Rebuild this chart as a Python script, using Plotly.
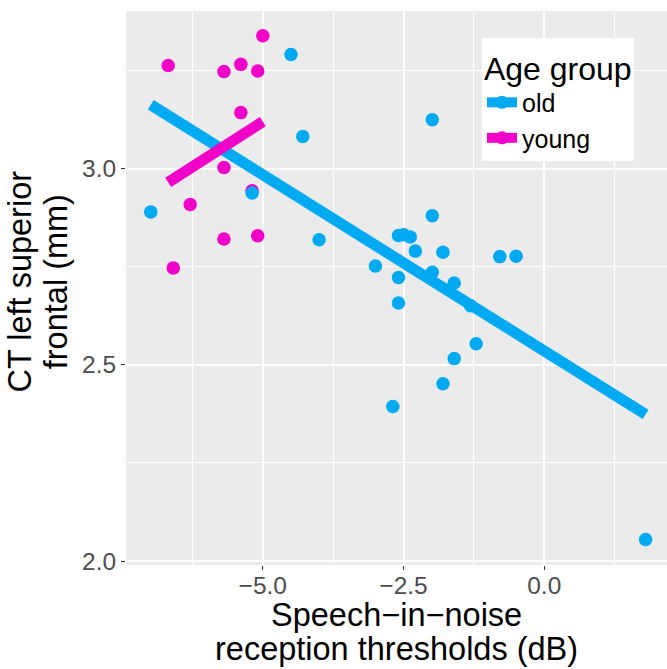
import plotly.graph_objects as go

# ---- data ----
old_x = [-4.50, -4.29, -5.19, -6.99, -4.00, -3.00, -2.59, -2.50, -2.38, -2.59,
         -1.99, -1.99, -2.29, -1.80, -0.79, -0.50, -1.99, -1.60, -2.59, -1.31,
         -1.21, -1.60, -1.80, -2.69, 1.80]
old_y = [3.291, 3.082, 2.938, 2.890, 2.819, 2.752, 2.830, 2.832, 2.826, 2.723,
         3.125, 2.880, 2.790, 2.787, 2.776, 2.777, 2.736, 2.709, 2.658, 2.651,
         2.554, 2.516, 2.452, 2.394, 2.055]

young_x = [-5.00, -6.68, -5.69, -5.39, -5.09, -5.39, -5.69, -5.19, -6.29, -5.69,
           -5.09, -6.59]
young_y = [3.339, 3.263, 3.248, 3.266, 3.249, 3.143, 3.003, 2.944, 2.909, 2.821,
           2.829, 2.747]

# fitted regression lines (endpoints)
fit_old_x = [-6.99, 1.80]
fit_old_y = [3.163, 2.374]
fit_young_x = [-6.68, -5.00]
fit_young_y = [2.965, 3.120]

x_ticks = [-5.0, -2.5, 0.0]
y_ticks = [2.0, 2.5, 3.0]
groups = ["old", "young"]
colors = {"old": "#00AAF2", "young": "#F000C8"}

FONT = "Liberation Sans, Arial, sans-serif"

fig = go.Figure()

# legend entries
for g in groups:
    fig.add_trace(go.Scatter(
        x=[None], y=[None], mode="lines+markers", name=g,
        line=dict(color=colors[g], width=11),
        marker=dict(color=colors[g], size=13),
        showlegend=True, hoverinfo="skip"))

# points
fig.add_trace(go.Scatter(x=young_x, y=young_y, mode="markers",
                         marker=dict(color=colors["young"], size=13.5),
                         showlegend=False))
fig.add_trace(go.Scatter(x=old_x, y=old_y, mode="markers",
                         marker=dict(color=colors["old"], size=13.5),
                         showlegend=False))
# fit lines
fig.add_trace(go.Scatter(x=fit_old_x, y=fit_old_y, mode="lines",
                         line=dict(color=colors["old"], width=11),
                         showlegend=False))
fig.add_trace(go.Scatter(x=fit_young_x, y=fit_young_y, mode="lines",
                         line=dict(color=colors["young"], width=11),
                         showlegend=False))

axis_common = dict(
    showgrid=True, gridcolor="white", gridwidth=1.6,
    zeroline=False, showline=False,
    ticks="outside", ticklen=4, tickwidth=1, tickcolor="#333333",
    tickfont=dict(family=FONT, size=24.5, color="#4D4D4D"),
    tickformat=".1f",
)

fig.update_xaxes(range=[-7.43, 2.18], tickvals=x_ticks, ticklabelstandoff=-5,
                 minor=dict(dtick=1.25, tick0=0, showgrid=True,
                            gridcolor="white", gridwidth=0.8, ticks=""),
                 **axis_common)
fig.update_yaxes(range=[1.99, 3.402], tickvals=y_ticks,
                 minor=dict(dtick=0.25, tick0=0, showgrid=True,
                            gridcolor="white", gridwidth=0.8, ticks=""),
                 **axis_common)

title_font = dict(family=FONT, size=32.5, color="black")
annotations = [
    dict(text="Speech\u2212in\u2212noise", xref="paper", yref="paper",
         x=0.5, y=-0.0905, xanchor="center", yanchor="middle",
         showarrow=False, font=title_font),
    dict(text="reception thresholds (dB)", xref="paper", yref="paper",
         x=0.5, y=-0.1525, xanchor="center", yanchor="middle",
         showarrow=False, font=title_font),
    dict(text="CT left superior", xref="paper", yref="paper",
         x=-0.1950, y=0.5108, xanchor="center", yanchor="middle",
         textangle=-90, showarrow=False, font=title_font),
    dict(text="frontal (mm)", xref="paper", yref="paper",
         x=-0.1290, y=0.5108, xanchor="center", yanchor="middle",
         textangle=-90, showarrow=False, font=title_font),
]

fig.update_layout(
    width=667, height=669,
    margin=dict(l=126, r=0, t=11, b=104),
    paper_bgcolor="white", plot_bgcolor="#EBEBEB",
    font=dict(family=FONT),
    annotations=annotations,
    legend=dict(
        x=0.658, y=0.9513, xanchor="left", yanchor="top",
        bgcolor="white", borderwidth=0,
        title=dict(text="Age group", font=dict(family=FONT, size=32, color="black")),
        font=dict(family=FONT, size=25, color="black"),
        itemwidth=30,
    ),
)

fig.write_html("out.html")
